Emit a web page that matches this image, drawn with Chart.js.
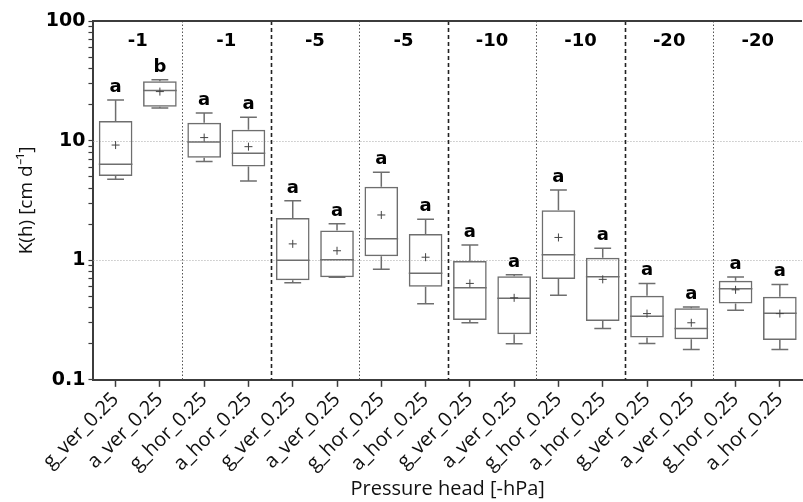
<!DOCTYPE html>
<html>
<head>
<meta charset="utf-8">
<script src="https://cdn.jsdelivr.net/npm/chart.js@4"></script>
<style>
  html, body { margin: 0; padding: 0; background: #fff; }
  #wrap { width: 803px; height: 502px; }
</style>
</head>
<body>
<div id="wrap"><canvas id="myChart"></canvas></div>
<script>
const categories = [
  'g_ver_0.25', 'a_ver_0.25', 'g_hor_0.25', 'a_hor_0.25',
  'g_ver_0.25', 'a_ver_0.25', 'g_hor_0.25', 'a_hor_0.25',
  'g_ver_0.25', 'a_ver_0.25', 'g_hor_0.25', 'a_hor_0.25',
  'g_ver_0.25', 'a_ver_0.25', 'g_hor_0.25', 'a_hor_0.25'
];
const groupLabels = ['-1', '-1', '-5', '-5', '-10', '-10', '-20', '-20'];

const whiskerLow  = [4.75, 18.7, 6.69, 4.60, 0.649, 0.719, 0.84, 0.432, 0.300, 0.200, 0.510, 0.269, 0.201, 0.179, 0.381, 0.179];
const q1          = [5.07, 19.2, 7.19, 6.08, 0.679, 0.720, 1.08, 0.600, 0.316, 0.241, 0.696, 0.310, 0.226, 0.219, 0.434, 0.215];
const median      = [6.35, 26.2, 9.73, 7.86, 1.00, 1.01, 1.51, 0.777, 0.589, 0.481, 1.11, 0.729, 0.340, 0.269, 0.578, 0.360];
const q3          = [14.6, 31.4, 14.1, 12.3, 2.25, 1.77, 4.12, 1.66, 0.987, 0.733, 2.62, 1.05, 0.504, 0.397, 0.674, 0.494];
const whiskerHigh = [21.9, 32.2, 17.0, 15.7, 3.14, 2.02, 5.44, 2.20, 1.34, 0.758, 3.87, 1.26, 0.640, 0.407, 0.723, 0.628];
const means       = [9.18, 25.7, 10.6, 8.90, 1.37, 1.20, 2.39, 1.06, 0.640, 0.485, 1.55, 0.692, 0.358, 0.300, 0.566, 0.358];
const letters     = ['a', 'b', 'a', 'a', 'a', 'a', 'a', 'a', 'a', 'a', 'a', 'a', 'a', 'a', 'a', 'a'];

const yTicks = [0.1, 0.2, 0.3, 0.4, 0.5, 0.6, 0.7, 0.8, 0.9,
                1, 2, 3, 4, 5, 6, 7, 8, 9,
                10, 20, 30, 40, 50, 60, 70, 80, 90, 100];
const yLabelled = [0.1, 1, 10, 100];
const yGrid = [1, 10];

const boxColor = '#6e6e6e';
const axisColor = '#3c3c3c';

// whiskers, medians, means, letters, separators, group labels
const boxPlotExtras = {
  id: 'boxPlotExtras',
  beforeDatasetsDraw(chart) {
    const ctx = chart.ctx, area = chart.chartArea;
    const x = chart.scales.x, y = chart.scales.y;
    ctx.save();
    // horizontal dotted grid
    ctx.strokeStyle = '#a8a8a8';
    ctx.lineWidth = 1;
    ctx.setLineDash([1, 2]);
    yGrid.forEach(v => {
      const py = Math.round(y.getPixelForValue(v)) + 0.5;
      ctx.beginPath(); ctx.moveTo(area.left, py); ctx.lineTo(area.right, py); ctx.stroke();
    });
    // separators between groups
    for (let g = 1; g < groupLabels.length; g++) {
      const px = Math.round((x.getPixelForValue(2 * g - 1) + x.getPixelForValue(2 * g)) / 2) + 0.5;
      const changes = groupLabels[g] !== groupLabels[g - 1];
      ctx.strokeStyle = changes ? '#222' : '#555';
      ctx.lineWidth = changes ? 1.6 : 1;
      ctx.setLineDash(changes ? [4, 3] : [1.5, 2]);
      ctx.beginPath(); ctx.moveTo(px, area.top); ctx.lineTo(px, area.bottom); ctx.stroke();
    }
    ctx.setLineDash([]);
    // top frame
    ctx.strokeStyle = axisColor;
    ctx.lineWidth = 2;
    ctx.beginPath(); ctx.moveTo(area.left, area.top); ctx.lineTo(area.right, area.top); ctx.stroke();
    // group labels
    ctx.fillStyle = '#000';
    ctx.font = 'bold 18px "DejaVu Sans"';
    ctx.textAlign = 'center';
    ctx.textBaseline = 'middle';
    groupLabels.forEach((lab, g) => {
      const px = (x.getPixelForValue(2 * g) + x.getPixelForValue(2 * g + 1)) / 2;
      ctx.fillText(lab, px, area.top + 20);
    });
    ctx.restore();
  },
  afterDatasetsDraw(chart) {
    const ctx = chart.ctx;
    const x = chart.scales.x, y = chart.scales.y;
    const half = x.width / categories.length * 0.19;
    ctx.save();
    ctx.strokeStyle = boxColor;
    ctx.lineWidth = 1.5;
    categories.forEach((c, i) => {
      const px = x.getPixelForValue(i);
      const yLo = y.getPixelForValue(whiskerLow[i]);
      const yQ1 = y.getPixelForValue(q1[i]);
      const yQ3 = y.getPixelForValue(q3[i]);
      const yHi = y.getPixelForValue(whiskerHigh[i]);
      const yMed = y.getPixelForValue(median[i]);
      ctx.beginPath();
      ctx.moveTo(px, yQ3); ctx.lineTo(px, yHi);
      ctx.moveTo(px - half, yHi); ctx.lineTo(px + half, yHi);
      ctx.moveTo(px, yQ1); ctx.lineTo(px, yLo);
      ctx.moveTo(px - half, yLo); ctx.lineTo(px + half, yLo);
      ctx.moveTo(px - 2 * half, yMed); ctx.lineTo(px + 2 * half, yMed);
      ctx.stroke();
      // mean marker
      const yMean = y.getPixelForValue(means[i]);
      ctx.save();
      ctx.strokeStyle = '#444';
      ctx.lineWidth = 1;
      ctx.beginPath();
      ctx.moveTo(px - 4, yMean); ctx.lineTo(px + 4, yMean);
      ctx.moveTo(px, yMean - 4); ctx.lineTo(px, yMean + 4);
      ctx.stroke();
      ctx.restore();
      // significance letter
      ctx.fillStyle = '#000';
      ctx.font = 'bold 18px "DejaVu Sans"';
      ctx.textAlign = 'center';
      ctx.textBaseline = 'alphabetic';
      ctx.fillText(letters[i], px, yHi - 8);
    });
    ctx.restore();
  }
};

const data = {
  labels: categories,
  datasets: [{
    data: categories.map((c, i) => [q1[i], q3[i]]),
    backgroundColor: 'rgba(255,255,255,0)',
    borderColor: boxColor,
    borderWidth: 1.5,
    borderSkipped: false,
    barPercentage: 0.76,
    categoryPercentage: 1
  }]
};

const config = {
  type: 'bar',
  data: data,
  options: {
    responsive: true,
    maintainAspectRatio: false,
    animation: false,
    layout: { padding: { top: 21, right: 1, left: 15, bottom: 1 } },
    plugins: {
      legend: { display: false },
      tooltip: { enabled: false }
    },
    scales: {
      x: {
        offset: true,
        grid: { display: true, drawOnChartArea: false, offset: false, tickLength: 7, tickColor: axisColor, tickWidth: 1.5 },
        border: { color: axisColor, width: 2 },
        ticks: {
          autoSkip: false, maxRotation: 45, minRotation: 45, padding: 1,
          color: '#111', font: { family: '"Open Sans"', size: 20 }
        },
        title: {
          display: true, text: 'Pressure head [-hPa]', color: '#111',
          font: { family: '"Open Sans"', size: 20 }, padding: { top: 0, bottom: 0 }
        }
      },
      y: {
        type: 'logarithmic',
        min: 0.1,
        max: 100,
        afterBuildTicks(axis) {
          axis.ticks = yTicks.map(v => ({ value: v, major: yLabelled.includes(v) }));
        },
        grid: { display: true, drawOnChartArea: false, tickLength: 5, tickColor: axisColor, tickWidth: 1.2 },
        border: { color: axisColor, width: 2 },
        ticks: {
          autoSkip: false, padding: 3, color: '#000',
          font: { family: '"DejaVu Sans"', size: 19, weight: 'bold' },
          callback: v => yLabelled.includes(v) ? String(v) : ''
        },
        title: {
          display: true, text: 'K(h) [cm d⁻¹]', color: '#111',
          font: { family: '"Open Sans"', size: 19 }, padding: { top: 0, bottom: 5 }
        }
      }
    }
  },
  plugins: [boxPlotExtras]
};

var myChart = new Chart(
  document.getElementById('myChart'),
  config
);
</script>
</body>
</html>
